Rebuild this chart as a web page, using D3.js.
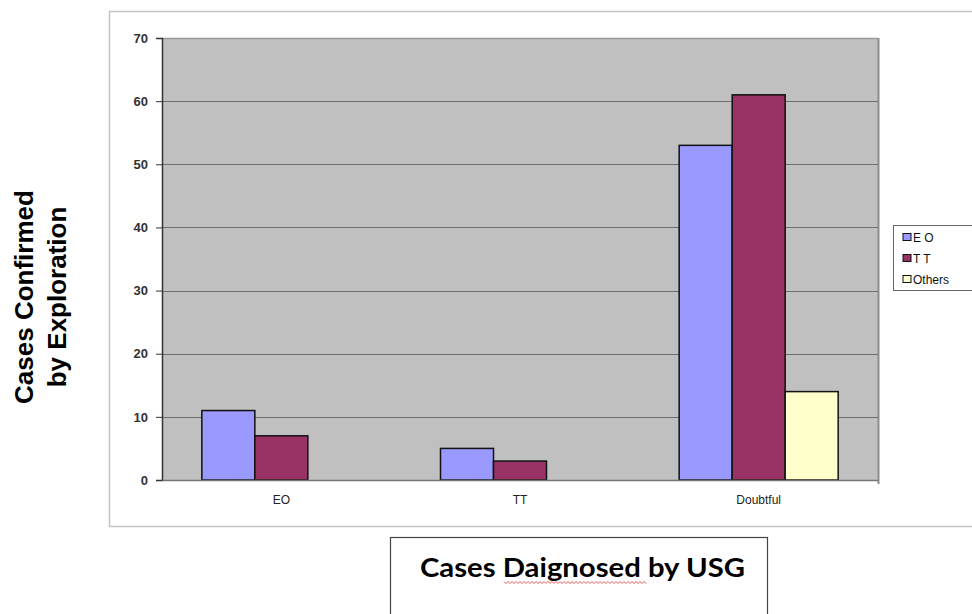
<!DOCTYPE html>
<html>
<head>
<meta charset="utf-8">
<script src="https://cdn.jsdelivr.net/npm/d3@7"></script>
<style>
  body { margin: 0; background: #fff; }
  svg { display: block; font-family: Arial, "Liberation Sans", sans-serif; }
</style>
</head>
<body>
<svg id="canvas" width="972" height="614"></svg>
<script>
// chart data
var categories = ["EO", "TT", "Doubtful"];
var seriesNames = ["E O", "T T", "Others"];
var seriesColors = ["#9999ff", "#993366", "#ffffcc"];
var eoValues = [11, 5, 53];
var ttValues = [7, 3, 61];
var otherValues = [0, 0, 14];
var yTicks = [0, 10, 20, 30, 40, 50, 60, 70];

var svg = d3.select("#canvas");

// outer chart frame (runs off the right edge)
svg.append("rect")
    .attr("x", 109.5).attr("y", 11.5)
    .attr("width", 900).attr("height", 515)
    .attr("fill", "#fff")
    .attr("stroke", "#c4c4c4").attr("stroke-width", 1.5);

var plot = {left: 162, top: 38, right: 878, bottom: 480};

var x = d3.scaleBand()
    .domain(categories)
    .range([plot.left, plot.right]);

var y = d3.scaleLinear()
    .domain([0, 70])
    .range([plot.bottom, plot.top]);

var inner = d3.scaleBand()
    .domain(seriesNames)
    .range([0, 159]);

// plot background
svg.append("rect")
    .attr("x", plot.left).attr("y", plot.top)
    .attr("width", plot.right - plot.left).attr("height", plot.bottom - plot.top)
    .attr("fill", "#c0c0c0");
svg.append("line")
    .attr("x1", plot.right + 0.5).attr("x2", plot.right + 0.5)
    .attr("y1", plot.top).attr("y2", plot.bottom + 4)
    .attr("stroke", "#8c8c8c").attr("stroke-width", 2);
svg.append("line")
    .attr("x1", plot.left).attr("x2", plot.right)
    .attr("y1", plot.top + 0.5).attr("y2", plot.top + 0.5)
    .attr("stroke", "#9a9a9a").attr("stroke-width", 1.5);

// gridlines
svg.append("g").selectAll("line")
    .data(yTicks.slice(1, -1))
    .join("line")
    .attr("x1", plot.left).attr("x2", plot.right)
    .attr("y1", function(d){ return Math.round(y(d)) + 0.5; })
    .attr("y2", function(d){ return Math.round(y(d)) + 0.5; })
    .attr("stroke", "#6e6e6e").attr("stroke-width", 1);

// bars
var allSeries = [eoValues, ttValues, otherValues];
allSeries.forEach(function(vals, si){
    var rows = vals.map(function(v, i){ return {cat: categories[i], value: v}; })
        .filter(function(r){ return r.value > 0; });
    svg.append("g").selectAll("rect")
        .data(rows)
        .join("rect")
        .attr("x", function(d){ return x(d.cat) + x.bandwidth()/2 - 79.5 + inner(seriesNames[si]); })
        .attr("y", function(d){ return y(d.value); })
        .attr("width", inner.bandwidth())
        .attr("height", function(d){ return y(0) - y(d.value); })
        .attr("fill", seriesColors[si])
        .attr("stroke", "#111").attr("stroke-width", 1.5);
});

// y axis
var yAxis = d3.axisLeft(y).tickValues(yTicks).tickSize(6).tickPadding(8);
var yg = svg.append("g")
    .attr("transform", "translate(" + plot.left + ",0)")
    .call(yAxis);
yg.select(".domain").attr("stroke", "#333").attr("stroke-width", 1.5);
yg.selectAll(".tick line").attr("stroke", "#333");
yg.selectAll("text").attr("font-size", 13).attr("fill", "#333").attr("font-weight", "bold").attr("font-family", "Arial, sans-serif");

// x axis
var xAxis = d3.axisBottom(x).tickSize(0).tickPadding(15);
var xg = svg.append("g")
    .attr("transform", "translate(0," + plot.bottom + ")")
    .call(xAxis);
xg.select(".domain").attr("stroke", "#777").attr("stroke-width", 1.5);
xg.selectAll("text").attr("font-size", 12).attr("fill", "#222").attr("font-family", "Arial, sans-serif");

// y axis title
var yt = svg.append("text")
    .attr("transform", "translate(0,297) rotate(-90)")
    .attr("text-anchor", "middle")
    .attr("font-size", 26).attr("font-weight", "bold").attr("fill", "#000");
yt.append("tspan").attr("x", 0).attr("y", 33).text("Cases Confirmed");
yt.append("tspan").attr("x", 0).attr("y", 66).text("by Exploration");

// legend
svg.append("rect")
    .attr("x", 893.5).attr("y", 225.5)
    .attr("width", 100).attr("height", 65)
    .attr("fill", "#fff").attr("stroke", "#666").attr("stroke-width", 1);
var lg = svg.append("g").selectAll("g")
    .data(seriesNames)
    .join("g")
    .attr("transform", function(d, i){ return "translate(903," + (237 + i * 21) + ")"; });
lg.append("rect")
    .attr("x", 0).attr("y", -3.5)
    .attr("width", 8).attr("height", 7)
    .attr("fill", function(d, i){ return seriesColors[i]; })
    .attr("stroke", "#111").attr("stroke-width", 1);
lg.append("text")
    .attr("x", 10).attr("y", 4.5)
    .attr("font-size", 12).attr("fill", "#111")
    .text(function(d){ return d; });

// x axis title box
svg.append("rect")
    .attr("x", 390.5).attr("y", 537.5)
    .attr("width", 377).attr("height", 100)
    .attr("fill", "#fff").attr("stroke", "#444").attr("stroke-width", 1.2);
svg.append("text")
    .attr("x", 420).attr("y", 577)
    .attr("font-family", "Lato, 'Open Sans', sans-serif")
    .attr("font-weight", "bold")
    .attr("font-size", 27).attr("fill", "#000")
    .attr("textLength", 325).attr("lengthAdjust", "spacingAndGlyphs")
    .text("Cases Daignosed by USG");

// red spell-check squiggle under "Daignosed"
var sx0 = 504, sx1 = 647, sy = 582;
var pts = [];
for (var sx = sx0, k = 0; sx <= sx1; sx += 2, k++) {
    pts.push([sx, sy + (k % 2 ? 1.5 : -0.5)]);
}
svg.append("path")
    .attr("d", d3.line()(pts))
    .attr("fill", "none").attr("stroke", "#e23030").attr("stroke-width", 0.8);
</script>
</body>
</html>
